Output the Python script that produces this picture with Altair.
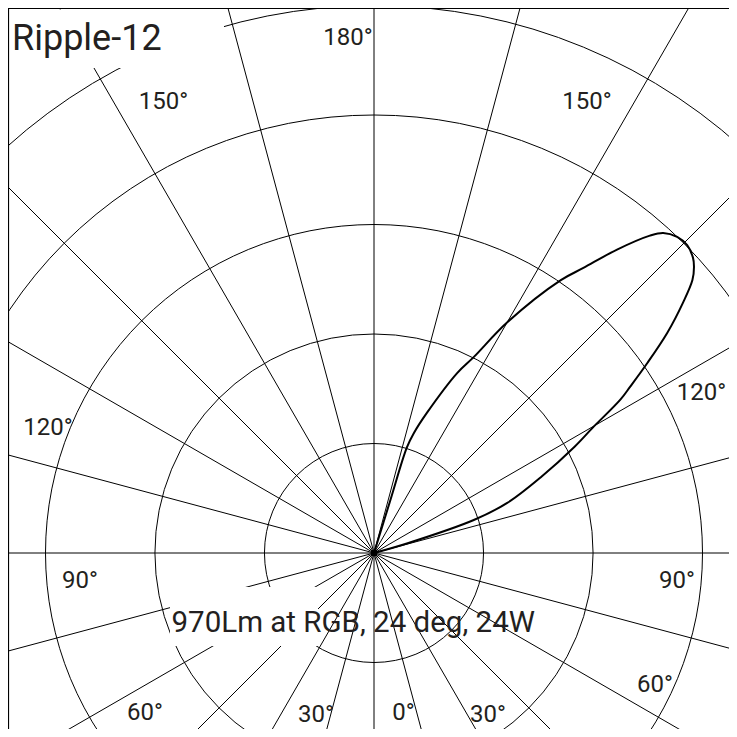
import altair as alt
import pandas as pd

# ---------------- data ----------------
ring_radii = [1, 2, 3, 4, 5]
spoke_angles = [0, 15, 30, 45, 60, 75, 90, 105, 120, 135, 150, 165,
                180, 195, 210, 225, 240, 255, 270, 285, 300, 315, 330, 345]

# light distribution curve (photometric angle in degrees, 0 = nadir, 180 = zenith;
# intensity in ring units)
curve_angle = [105.0, 106.2, 108.3, 110.6, 114.5, 117.9, 119.8, 121.9, 123.0, 124.8,
               126.9, 129.0, 130.6, 131.8, 132.8, 134.5, 136.2, 137.9, 139.0, 141.3,
               143.7, 145.6, 150.0, 153.0, 155.2, 159.3, 161.6, 162.7, 162.8, 163.0]
curve_intensity = [0.0, 0.32, 0.96, 1.30, 1.68, 2.07, 2.30, 2.65, 2.79, 3.04,
                   3.35, 3.63, 3.83, 3.92, 3.97, 4.01, 4.00, 3.94, 3.84, 3.55,
                   3.23, 3.02, 2.43, 2.01, 1.81, 1.37, 1.155, 1.01, 0.50, 0.0]

label_text = ["180°", "150°", "150°", "120°", "120°", "90°", "90°",
              "60°", "60°", "30°", "0°", "30°"]
label_x = [-0.237, -1.922, 1.945, -2.977, 2.99, -2.685, 2.767,
           -2.091, 2.566, -0.530, 0.269, 1.041]
label_y = [4.639, 4.055, 4.055, 1.078, 1.397, -0.320, -0.320,
           -1.525, -1.269, -1.543, -1.525, -1.543]

title_text = ["Ripple-12"]
title_x = [-3.306]
title_y = [4.594]

caption_text = ["970Lm at RGB, 24 deg, 24W"]
caption_x = [-0.190]
caption_y = [-0.721]

# white boxes behind the title and the caption
mask_x = [-3.328, -1.863]
mask_x2 = [-1.370, -0.511]
mask_y = [4.429, -0.849]
mask_y2 = [4.963, -0.311]

# ---------------- layout ----------------
PX = 109.5          # pixels per ring
W = 721
H = 721
CX = 366            # centre inside the view
CY = 545
X_MIN, X_MAX = -CX / PX, (W - CX) / PX
Y_MIN, Y_MAX = -(H - CY) / PX, CY / PX

xs = alt.Scale(domain=[X_MIN, X_MAX], nice=False, zero=False)
ys = alt.Scale(domain=[Y_MIN, Y_MAX], nice=False, zero=False)
INK = "#231f20"

rings = alt.Chart(pd.DataFrame({"r": ring_radii, "cx": 0.0, "cy": 0.0})).mark_arc(
    fill="transparent", stroke="black", strokeWidth=1, theta=0, theta2=6.2832, clip=True
).encode(
    x=alt.X("cx:Q", scale=xs, axis=None),
    y=alt.Y("cy:Q", scale=ys, axis=None),
    radius=alt.Radius("r:Q", stack=False,
                      scale=alt.Scale(type="linear", domain=[0, 1], range=[0, PX])),
)

spokes = alt.Chart(pd.DataFrame({"a": spoke_angles})).transform_calculate(
    x0="0", y0="0",
    x1="8*sin(datum.a*PI/180)", y1="-8*cos(datum.a*PI/180)",
).mark_rule(color="black", strokeWidth=1, clip=True).encode(
    x=alt.X("x0:Q", scale=xs, axis=None),
    y=alt.Y("y0:Q", scale=ys, axis=None),
    x2="x1:Q", y2="y1:Q",
)

masks = alt.Chart(pd.DataFrame({"x": mask_x, "x2": mask_x2, "y": mask_y, "y2": mask_y2})).mark_rect(
    fill="white", strokeWidth=0
).encode(
    x=alt.X("x:Q", scale=xs, axis=None), x2="x2:Q",
    y=alt.Y("y:Q", scale=ys, axis=None), y2="y2:Q",
)

# frame: left and top edges (the others fall outside the picture)
frame_df = pd.DataFrame({"x": [X_MIN + 0.5 / PX, X_MIN], "x2": [X_MIN + 0.5 / PX, X_MAX],
                         "y": [Y_MIN, Y_MAX - 0.5 / PX], "y2": [Y_MAX, Y_MAX - 0.5 / PX]})
frame = alt.Chart(frame_df).mark_rule(color="black", strokeWidth=1.2).encode(
    x=alt.X("x:Q", scale=xs, axis=None), x2="x2:Q",
    y=alt.Y("y:Q", scale=ys, axis=None), y2="y2:Q",
)

curve_df = pd.DataFrame({"i": list(range(len(curve_angle))), "a": curve_angle, "r": curve_intensity})
curve = alt.Chart(curve_df).transform_calculate(
    px="datum.r*sin(datum.a*PI/180)", py="-datum.r*cos(datum.a*PI/180)"
).mark_line(color="black", strokeWidth=2, interpolate="catmull-rom", clip=True).encode(
    x=alt.X("px:Q", scale=xs, axis=None),
    y=alt.Y("py:Q", scale=ys, axis=None),
    order=alt.Order("i:Q"),
)

labels = alt.Chart(pd.DataFrame({"t": label_text, "x": label_x, "y": label_y})).mark_text(
    font="Roboto", fontSize=24, color=INK, align="center", baseline="alphabetic"
).encode(
    x=alt.X("x:Q", scale=xs, axis=None), y=alt.Y("y:Q", scale=ys, axis=None), text="t:N"
)

title = alt.Chart(pd.DataFrame({"t": title_text, "x": title_x, "y": title_y})).mark_text(
    font="Roboto", fontSize=36, color=INK, align="left", baseline="alphabetic"
).encode(
    x=alt.X("x:Q", scale=xs, axis=None), y=alt.Y("y:Q", scale=ys, axis=None), text="t:N"
)

caption = alt.Chart(pd.DataFrame({"t": caption_text, "x": caption_x, "y": caption_y})).mark_text(
    font="Roboto", fontSize=29.5, color=INK, align="center", baseline="alphabetic"
).encode(
    x=alt.X("x:Q", scale=xs, axis=None), y=alt.Y("y:Q", scale=ys, axis=None), text="t:N"
)

dot = alt.Chart(pd.DataFrame({"x": [0.0], "y": [0.0]})).mark_point(
    filled=True, color="black", size=40, opacity=1
).encode(
    x=alt.X("x:Q", scale=xs, axis=None), y=alt.Y("y:Q", scale=ys, axis=None)
)

chart = alt.layer(rings, spokes, masks, frame, curve, labels, title, caption, dot).properties(
    width=W, height=H, padding=0, autosize=alt.AutoSizeParams(type="none")
).configure_view(strokeWidth=0)

chart.save("out.html", embed_options={"renderer": "svg", "actions": False})
